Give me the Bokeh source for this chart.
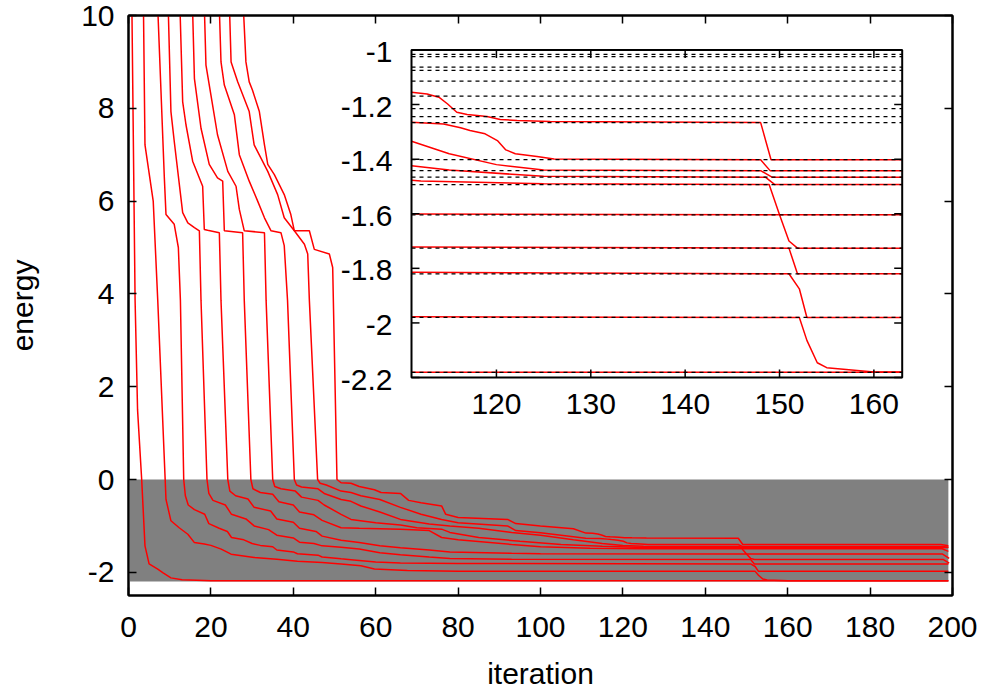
import numpy as np
from bokeh.plotting import figure
from bokeh.models import Range1d, FixedTicker, LinearAxis
from bokeh.embed import file_html
from bokeh.resources import INLINE
from bokeh.core.properties import value

# ---------------- data ----------------
c1_x = [0.6, 1.6, 2.2, 3.2, 4.0, 5.0, 7.1, 8.4, 10.3, 13.0, 20.0, 199.0]
c1_y = [12.0, 3.86, 1.5, 0.0, -1.43, -1.82, -1.93, -2.01, -2.12, -2.16, -2.18, -2.181]

c2_x = [3.4, 4.0, 6.0, 7.1, 8.9, 9.1, 10.3, 12.3, 14.4, 16.0, 18.4, 20.0, 22.5, 24.9, 30.5, 36.0, 41.0, 47.0,
        51.6, 56.4, 59.7, 67.7, 80.0, 148.0, 152.1, 152.9, 154.0, 155.0, 160.0, 199.0]
c2_y = [12.0, 7.21, 6.0, 3.86, 0.0, -0.43, -0.89, -1.04, -1.18, -1.36, -1.39, -1.42, -1.5, -1.61, -1.68, -1.72, -1.76, -1.79,
        -1.82, -1.86, -1.93, -1.96, -1.975, -1.98, -1.98, -2.064, -2.146, -2.164, -2.18, -2.181]

c3_x = [6.3, 8.7, 9.1, 11.1, 12.1, 12.6, 13.4, 13.8, 14.5, 16.0, 18.5, 19.5, 22.0, 24.0, 25.0, 28.0, 30.0, 32.0, 35.0, 36.0,
        40.0, 41.0, 46.0, 47.0, 51.6, 54.0, 60.0, 66.0, 80.0, 151.0, 152.1, 152.9, 199.0]
c3_y = [12.0, 6.5, 5.71, 5.5, 5.0, 3.86, 0.0, -0.35, -0.55, -0.65, -0.75, -0.95, -1.05, -1.12, -1.25, -1.3, -1.38, -1.42, -1.45, -1.52,
        -1.56, -1.6, -1.63, -1.67, -1.71, -1.73, -1.78, -1.8, -1.81, -1.82, -1.875, -1.98, -1.98]

c4_x = [9.1, 10.3, 11.1, 13.15, 14.4, 16.0, 17.2, 17.6, 19.05, 19.5, 20.5, 23.5, 25.0, 28.5, 30.5, 34.0, 36.0, 40.0, 41.5,
        45.0, 47.0, 51.6, 56.0, 61.0, 66.0, 73.0, 78.0, 93.0, 151.0, 151.9, 199.0]
c4_y = [12.0, 7.93, 7.29, 5.75, 5.53, 5.43, 5.36, 3.86, 0.0, -0.3, -0.45, -0.55, -0.75, -0.85, -1.0, -1.08, -1.2, -1.26, -1.35,
        -1.38, -1.43, -1.46, -1.5, -1.58, -1.62, -1.67, -1.7, -1.72, -1.726, -1.82, -1.82]

c5_x = [11.9, 13.15, 13.96, 15.57, 18.0, 18.4, 19.2, 22.05, 22.45, 24.1, 24.6, 26.0, 29.0, 30.5, 34.5, 36.0, 40.0, 41.5,
        45.5, 47.0, 51.6, 56.0, 61.0, 66.0, 73.0, 78.0, 93.0, 100.0, 150.0, 151.0, 151.9, 197.8, 199.2]
c5_y = [12.0, 8.14, 7.64, 6.86, 6.32, 5.39, 5.37, 5.32, 3.86, 0.0, -0.25, -0.35, -0.42, -0.6, -0.68, -0.85, -0.92, -1.05,
        -1.12, -1.22, -1.31, -1.36, -1.43, -1.47, -1.52, -1.56, -1.59, -1.6, -1.604, -1.7, -1.726, -1.726, -1.80]

c6_x = [15.0, 16.0, 17.6, 19.6, 21.6, 22.86, 23.26, 27.7, 28.1, 29.7, 30.2, 32.0, 35.0, 36.5, 40.0, 41.5, 45.0, 47.0,
        51.6, 56.0, 66.0, 73.0, 76.0, 80.0, 93.0, 100.0, 112.0, 125.0, 148.9, 150.0, 197.5, 199.2]
c6_y = [12.0, 8.64, 7.57, 6.79, 6.5, 6.43, 5.36, 5.32, 3.86, 0.0, -0.2, -0.28, -0.32, -0.48, -0.55, -0.7, -0.76, -0.88,
        -1.04, -1.05, -1.07, -1.1, -1.25, -1.3, -1.4, -1.45, -1.48, -1.49, -1.493, -1.604, -1.604, -1.70]

c7_x = [17.84, 18.8, 20.0, 21.6, 24.1, 26.1, 26.9, 28.1, 33.0, 33.4, 35.0, 35.5, 37.0, 40.5, 42.0, 46.0, 47.5, 51.6,
        54.0, 60.0, 66.0, 70.0, 76.0, 78.0, 85.0, 95.0, 105.0, 115.0, 125.0, 148.5, 149.5, 197.5, 199.0]
c7_y = [12.0, 8.93, 8.29, 7.43, 6.64, 6.32, 5.82, 5.36, 5.32, 3.86, 0.0, -0.15, -0.2, -0.25, -0.38, -0.45, -0.55, -0.75,
        -0.86, -0.93, -0.98, -1.04, -1.07, -1.14, -1.25, -1.33, -1.4, -1.44, -1.463, -1.466, -1.493, -1.493, -1.55]

c8_x = [21.4, 22.45, 23.26, 25.7, 26.9, 29.3, 31.35, 33.0, 34.6, 37.0, 37.8, 38.6, 40.25, 40.8, 42.0, 46.0, 47.5, 51.6,
        54.0, 56.4, 61.0, 66.0, 73.0, 78.0, 85.0, 93.0, 100.0, 108.0, 115.0, 120.0, 125.0, 148.0, 149.2, 199.0]
c8_y = [12.0, 9.0, 8.5, 7.86, 7.0, 6.43, 6.0, 5.64, 5.36, 5.32, 5.04, 3.86, 0.0, -0.12, -0.16, -0.2, -0.3, -0.43,
        -0.47, -0.57, -0.7, -0.86, -0.96, -1.0, -1.05, -1.14, -1.2, -1.3, -1.38, -1.42, -1.44, -1.442, -1.466, -1.466]

c9_x = [23.9, 24.9, 26.5, 29.3, 30.5, 33.8, 36.2, 37.8, 40.25, 42.7, 43.5, 43.9, 45.9, 46.5, 48.0, 51.6, 54.0, 56.4,
        61.0, 66.0, 71.0, 76.0, 80.0, 92.0, 94.0, 100.0, 111.0, 114.4, 116.2, 117.2, 118.8, 120.1, 121.0, 122.0, 124.3,
        126.1, 148.0, 149.0, 197.5, 199.0]
c9_y = [12.0, 9.0, 8.57, 7.93, 7.21, 6.64, 6.14, 5.64, 5.36, 5.07, 4.86, 3.86, 0.0, -0.08, -0.12, -0.25, -0.28, -0.35,
        -0.43, -0.6, -0.75, -0.86, -0.93, -1.0, -1.1, -1.15, -1.265, -1.271, -1.285, -1.295, -1.307, -1.332, -1.366, -1.38, -1.39,
        -1.399, -1.402, -1.442, -1.442, -1.46]

c10_x = [26.9, 28.5, 29.3, 30.1, 31.76, 33.0, 33.8, 35.4, 37.8, 39.4, 40.25, 43.9, 45.1, 48.75, 49.56, 50.6, 51.6, 54.0,
         56.0, 59.7, 61.3, 66.0, 68.0, 71.0, 76.0, 77.0, 80.0, 92.0, 94.0, 100.0, 108.0, 111.0, 112.65, 113.9, 114.8, 115.8,
         116.9, 119.0, 120.4, 122.2, 125.7, 148.0, 149.1, 197.2, 199.0]
c10_y = [12.0, 9.0, 8.57, 8.39, 7.93, 7.21, 6.79, 6.57, 6.14, 5.71, 5.36, 5.36, 4.96, 4.86, 4.57, 0.0, -0.07, -0.08,
         -0.15, -0.22, -0.28, -0.3, -0.45, -0.5, -0.57, -0.75, -0.82, -0.86, -0.95, -1.0, -1.06, -1.155, -1.161, -1.173, -1.197, -1.228,
         -1.236, -1.244, -1.255, -1.258, -1.262, -1.266, -1.402, -1.402, -1.43]

# exact levels (dashed lines of the inset)
exact_levels = [-1.016, -1.024, -1.063, -1.075, -1.114, -1.169, -1.215, -1.244, -1.266,
                -1.402, -1.442, -1.466, -1.493, -1.604, -1.726, -1.820, -1.980, -2.181]

# shaded band
band_x = [0, 199]
band_y = [-2.2, 0]

main_xticks = [0, 20, 40, 60, 80, 100, 120, 140, 160, 180, 200]
main_yticks = [-2, 0, 2, 4, 6, 8, 10]
inset_xticks = [120, 130, 140, 150, 160]
inset_xlabels = ["120", "130", "140", "150", "160"]
inset_yticks = [-1.0, -1.2, -1.4, -1.6, -1.8, -2.0, -2.2]
inset_ylabels = ["-1", "-1.2", "-1.4", "-1.6", "-1.8", "-2", "-2.2"]
inset_xlim = (111, 163)
inset_ylim = (-2.2, -1.0)

curves_x = [c1_x, c2_x, c3_x, c4_x, c5_x, c6_x, c7_x, c8_x, c9_x, c10_x]
curves_y = [c1_y, c2_y, c3_y, c4_y, c5_y, c6_y, c7_y, c8_y, c9_y, c10_y]

# ---------------- layout / style ----------------
FONT = "Liberation Sans"
TICK_FS = "30px"
LAB_FS = "30px"
RED = "#ff0000"
W, H = 988, 695
BL, BR, BT, BB = 128, 36, 15, 100
FW, FH = W - BL - BR, H - BT - BB

p = figure(width=W, height=H, x_range=Range1d(0, 200), y_range=Range1d(-2.5, 10),
           output_backend="svg", toolbar_location=None,
           min_border_left=BL, min_border_right=BR, min_border_top=BT, min_border_bottom=BB)
p.background_fill_color = "white"
p.border_fill_color = "white"
p.outline_line_color = "black"
p.outline_line_width = 2
p.xgrid.grid_line_color = None
p.ygrid.grid_line_color = None

def style_axis(ax, ticks, labels=True):
    ax.ticker = FixedTicker(ticks=ticks)
    ax.major_tick_in = 8
    ax.major_tick_out = 0
    ax.major_tick_line_width = 1.5
    ax.minor_tick_line_color = None
    ax.axis_line_width = 2
    ax.major_label_text_font = FONT
    if labels:
        ax.major_label_text_font_size = TICK_FS
        ax.major_label_text_color = "black"
        ax.major_label_overrides = {t: ("%g" % t) for t in ticks}
    else:
        ax.major_label_text_font_size = "1px"
        ax.major_label_text_color = None
        ax.major_label_standoff = 0
    ax.axis_label_text_font = FONT
    ax.axis_label_text_font_size = LAB_FS
    ax.axis_label_text_font_style = "normal"
    ax.axis_label_text_color = "black"

style_axis(p.xaxis[0], main_xticks)
style_axis(p.yaxis[0], main_yticks)
p.xaxis.axis_label = "iteration"
p.yaxis.axis_label = "energy"
p.xaxis.major_label_standoff = 21
p.xaxis.axis_label_standoff = 17
p.yaxis.major_label_standoff = 14
p.yaxis.axis_label_standoff = 39

top_ax = LinearAxis()
style_axis(top_ax, main_xticks, labels=False)
p.add_layout(top_ax, "above")
right_ax = LinearAxis()
style_axis(right_ax, main_yticks, labels=False)
p.add_layout(right_ax, "right")

# shaded band
p.quad(left=band_x[0], right=band_x[1], bottom=band_y[0], top=band_y[1],
       fill_color="#808080", line_color=None)

# main curves
for cx, cy in zip(curves_x, curves_y):
    p.line(cx, cy, line_color=RED, line_width=1.5)

# ---------------- inset (drawn with its own ranges inside the main frame) ----------------
fl, fr = (411.0 - BL) / FW, (901.7 - BL) / FW          # inset placement, fraction of frame
fb, ft = 1 - (377.0 - BT) / FH, 1 - (49.5 - BT) / FH
sx = (inset_xlim[1] - inset_xlim[0]) / (fr - fl)
sy = (inset_ylim[1] - inset_ylim[0]) / (ft - fb)
ix0 = inset_xlim[0] - fl * sx
iy0 = inset_ylim[0] - fb * sy
p.extra_x_ranges = {"ix": Range1d(ix0, ix0 + sx)}
p.extra_y_ranges = {"iy": Range1d(iy0, iy0 + sy)}
kw = dict(x_range_name="ix", y_range_name="iy")

p.quad(left=inset_xlim[0], right=inset_xlim[1], bottom=inset_ylim[0], top=inset_ylim[1],
       fill_color="white", line_color=None, **kw)

for cx, cy in zip(curves_x, curves_y):
    cx = np.asarray(cx); cy = np.asarray(cy)
    m = (cx > inset_xlim[0]) & (cx < inset_xlim[1])
    xs = np.concatenate([[inset_xlim[0]], cx[m], [inset_xlim[1]]])
    ys = np.concatenate([[np.interp(inset_xlim[0], cx, cy)], cy[m], [np.interp(inset_xlim[1], cx, cy)]])
    p.line(xs, ys, line_color=RED, line_width=1.5, **kw)

n = len(exact_levels)
p.segment(x0=[inset_xlim[0]] * n, x1=[inset_xlim[1]] * n, y0=exact_levels, y1=exact_levels,
          line_color="black", line_width=1.3, line_dash="4 4", **kw)

# inset frame
p.quad(left=inset_xlim[0], right=inset_xlim[1], bottom=inset_ylim[0], top=inset_ylim[1],
       fill_color=None, line_color="black", line_width=2, **kw)

# inset ticks (8 px long, inward)
px_x = FW * (fr - fl) / (inset_xlim[1] - inset_xlim[0])
px_y = FH * (ft - fb) / (inset_ylim[1] - inset_ylim[0])
tx = 8 / px_x
ty = 8 / px_y
nx = len(inset_xticks); ny = len(inset_yticks)
p.segment(x0=inset_xticks, x1=inset_xticks, y0=[inset_ylim[0]] * nx, y1=[inset_ylim[0] + ty] * nx,
          line_color="black", line_width=1.5, **kw)
p.segment(x0=inset_xticks, x1=inset_xticks, y0=[inset_ylim[1]] * nx, y1=[inset_ylim[1] - ty] * nx,
          line_color="black", line_width=1.5, **kw)
p.segment(x0=[inset_xlim[0]] * ny, x1=[inset_xlim[0] + tx] * ny, y0=inset_yticks, y1=inset_yticks,
          line_color="black", line_width=1.5, **kw)
p.segment(x0=[inset_xlim[1]] * ny, x1=[inset_xlim[1] - tx] * ny, y0=inset_yticks, y1=inset_yticks,
          line_color="black", line_width=1.5, **kw)

p.text(x=inset_xticks, y=[inset_ylim[0]] * nx, text=inset_xlabels, text_align="center", text_baseline="top",
       y_offset=16, text_font=value(FONT), text_font_size=TICK_FS, text_color="black", **kw)
p.text(x=[inset_xlim[0]] * ny, y=inset_yticks, text=inset_ylabels, text_align="right", text_baseline="middle",
       x_offset=-19, y_offset=2, text_font=value(FONT), text_font_size=TICK_FS, text_color="black", **kw)

open("out.html", "w").write(file_html(p, INLINE))
